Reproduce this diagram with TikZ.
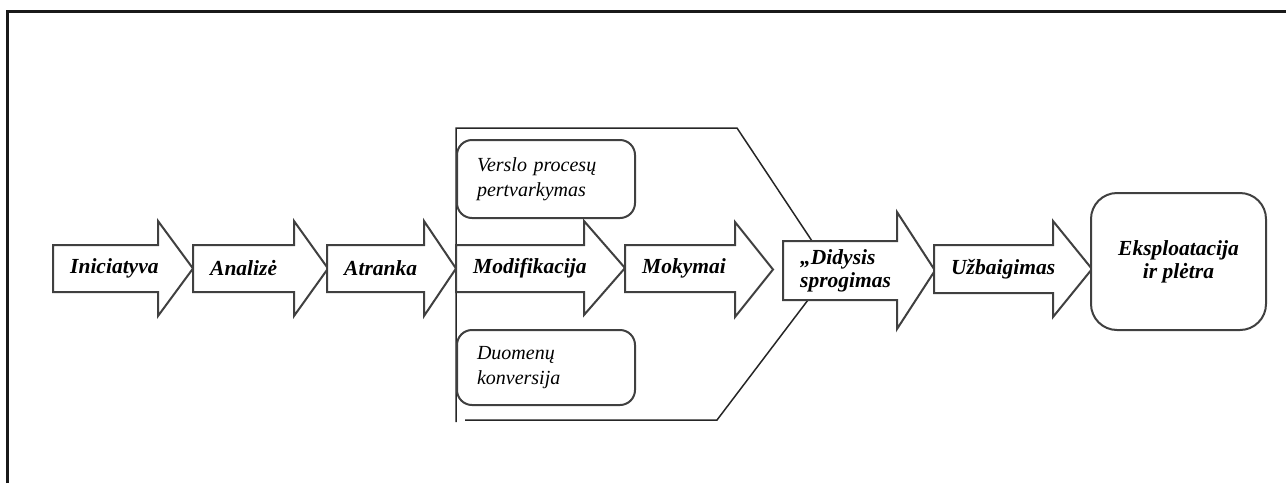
\documentclass[tikz,border=0pt]{standalone}
\usepackage{fontspec}
\setmainfont{Liberation Serif}
\begin{document}
\begin{tikzpicture}[x=1pt,y=-1pt,
  stageline/.style={draw=black!75,line width=2pt,fill=white,line join=miter},
  stagetext/.style={anchor=west,inner sep=0pt,align=left,
    font=\fontsize{21.5}{23}\selectfont\bfseries\itshape},
  subbox/.style={draw=black!75,line width=2pt,fill=white,rounded corners=15pt,
    minimum width=178pt,minimum height=78pt,inner xsep=20pt,inner ysep=0pt,
    text width=138pt,align=left,font=\fontsize{20}{25}\selectfont\itshape},
  endbox/.style={draw=black!75,line width=2pt,fill=white,rounded corners=26pt,
    minimum width=175pt,minimum height=137pt,align=center,
    font=\fontsize{21.5}{23}\selectfont\bfseries\itshape},
  groupline/.style={draw=black!85,line width=1.5pt},
  frameline/.style={draw=black!90,line width=3pt}]
\useasboundingbox (0,0) rectangle (1286,483);

% page frame
\draw[frameline] (7,483) -- (7,11.5) -- (1286,11.5);

% stage arrow: name, left, body top, body bottom, head base, head top, head bottom, tip, label
\newcommand\stagearrow[9]{%
  \draw[stageline] (#2,#3) -- (#5,#3) -- (#5,#6) -- (#8,{(#6+#7)/2}) -- (#5,#7)
    -- (#5,#4) -- (#2,#4) -- cycle;
  \node[stagetext] (#1) at ({#2+17},{(#3+#4)/2}) {#9};}

% bracket grouping the parallel activities
\draw[groupline] (456,422) -- (456,128) -- (737,128) -- (812,241);
\draw[groupline] (465,420) -- (717,420) -- (808,300);

\stagearrow{ini}{53}{245}{292}{158}{221}{316}{193}{Iniciatyva}
\stagearrow{ana}{193}{245}{292}{294}{221}{316}{328}{Analizė}
\stagearrow{atr}{327}{245}{292}{424}{221}{316}{456}{Atranka}
\stagearrow{mod}{456}{245}{292}{584}{221}{315}{625}{Modifikacija}
\stagearrow{mok}{625}{245}{292}{735}{222}{317}{773}{Mokymai}
\stagearrow{big}{783}{241}{300}{897}{212}{329}{935}{„Didysis\\sprogimas}
\stagearrow{uzb}{934}{245}{293}{1053}{221}{317}{1092}{Užbaigimas}

\node[subbox] (verslo) at (546,179) {Verslo procesų\\pertvarkymas};
\node[subbox,minimum height=75pt] (duom) at (546,367.5) {Duomenų\\konversija};

\node[endbox] (eksp) at (1178.5,261.5) {Eksploatacija\\ir plėtra};
\end{tikzpicture}
\end{document}
